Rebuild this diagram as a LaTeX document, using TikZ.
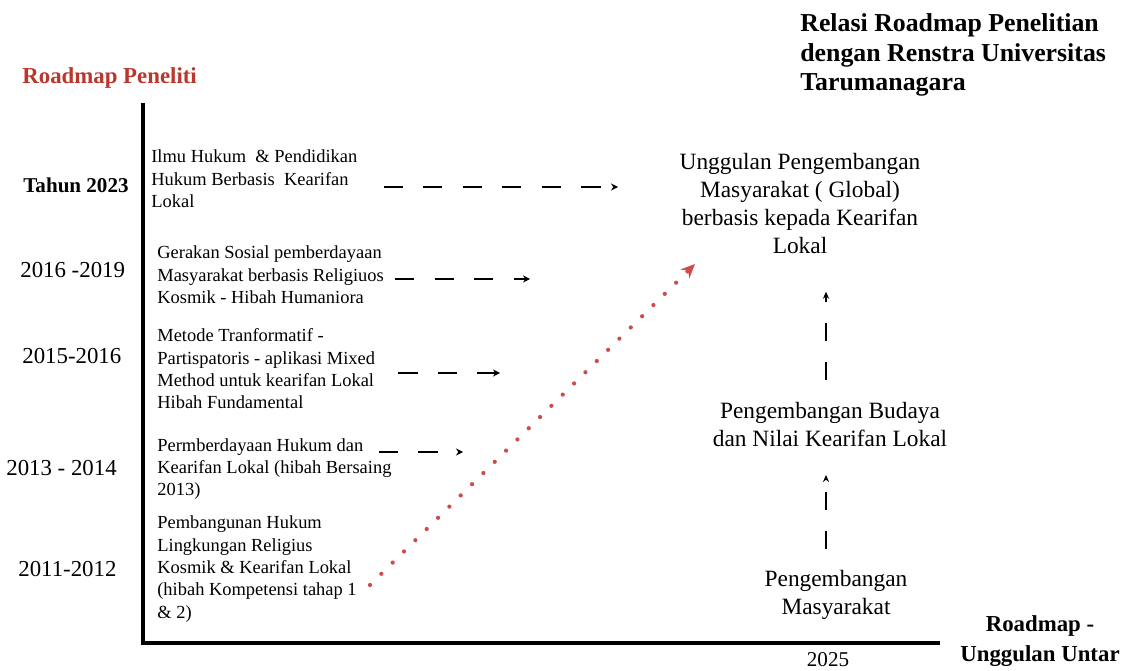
\documentclass[tikz,border=0pt]{standalone}
\usepackage{fontspec}
\setmainfont{Liberation Serif}
\usetikzlibrary{arrows.meta}
\definecolor{rmred}{RGB}{185,55,45}
\definecolor{dotred}{RGB}{205,75,75}
\begin{document}
\begin{tikzpicture}[x=0.02cm,y=-0.02cm,
  ltext/.style={inner sep=0pt, anchor=west, align=left, font=\fontsize{10.5}{12.7}\selectfont},
  ytext/.style={inner sep=0pt, anchor=west, font=\fontsize{13}{15}\selectfont},
  rtext/.style={inner sep=0pt, align=center, font=\fontsize{13.3}{15.9}\selectfont},
  harrow/.style={line width=1.4pt, dash pattern=on 11pt off 11.5pt, -{Stealth[length=4pt,width=4pt]}},
  varrow/.style={line width=1.4pt, dash pattern=on 10.2pt off 11.9pt, -{Stealth[length=4pt,width=3.5pt]}},
  redarrow/.style={dotred, line width=2.4pt, line cap=round, dash pattern=on 0pt off 9.07pt, -{Stealth[length=8pt,width=7pt]}},
  axisline/.style={line width=2.3pt}
]
\useasboundingbox (0,0) rectangle (1131,671);

% titles
\node[inner sep=0pt, anchor=west, text=rmred, font=\fontsize{13}{15}\selectfont\bfseries] (rp) at (22,78) {Roadmap Peneliti};
\node[inner sep=0pt, anchor=west, align=left, font=\fontsize{14.7}{17}\selectfont\bfseries] (title) at (800,55) {Relasi Roadmap Penelitian\\dengan Renstra Universitas\\Tarumanagara};

% axes
\coordinate (ytop) at (143,103);
\coordinate (orig) at (143,643);
\coordinate (xend) at (940,643);
\draw[axisline] (ytop) -- (orig) -- (xend);

% years
\node[ytext, font=\fontsize{12}{14}\selectfont\bfseries] (y1) at (23,185) {Tahun 2023};
\node[ytext] (y2) at (20,270) {2016 -2019};
\node[ytext] (y3) at (22,356) {2015-2016};
\node[ytext] (y4) at (6,468) {2013 - 2014};
\node[ytext] (y5) at (18,569) {2011-2012};

% research items
\node[ltext] (t1) at (151,179) {Ilmu Hukum\ \ \& Pendidikan\\Hukum Berbasis\ \ Kearifan\\Lokal};
\node[ltext] (t2) at (157,275) {Gerakan Sosial pemberdayaan\\Masyarakat berbasis Religiuos\\Kosmik - Hibah Humaniora};
\node[ltext] (t3) at (157,369) {Metode Tranformatif -\\Partispatoris - aplikasi Mixed\\Method untuk kearifan Lokal\\Hibah Fundamental};
\node[ltext] (t4) at (157,469) {Permberdayaan Hukum dan\\Kearifan Lokal (hibah Bersaing\\2013)};
\node[ltext] (t5) at (157,569) {Pembangunan Hukum\\Lingkungan Religius\\Kosmik \& Kearifan Lokal\\(hibah Kompetensi tahap 1\\\& 2)};

% right column
\node[rtext] (ung) at (800,203.5) {Unggulan Pengembangan\\Masyarakat ( Global)\\berbasis kepada Kearifan\\Lokal};
\node[rtext] (bud) at (830,424.5) {Pengembangan Budaya\\dan Nilai Kearifan Lokal};
\node[rtext] (masy) at (836,594.5) {Pengembangan\\Masyarakat};

% footer
\node[inner sep=0pt, align=center, font=\fontsize{13}{17}\selectfont\bfseries] (ru) at (1040,641.5) {Roadmap -\\Unggulan Untar};
\node[inner sep=0pt, font=\fontsize{12}{14}\selectfont] (yr) at (828,660) {2025};

% horizontal dashed arrows
\coordinate (e1) at (618,187);
\coordinate (e2) at (530,279);
\coordinate (e3) at (500,373);
\coordinate (e4) at (463,452);
\draw[harrow, shorten <=14.7pt] (t1.east |- e1) -- (e1);
\draw[harrow, shorten <=6.2pt] (t2.east |- e2) -- (e2);
\draw[harrow, shorten <=13pt] (t3.east |- e3) -- (e3);
\draw[harrow, shorten <=-7.4pt] (t4.east |- e4) -- (e4);

% vertical dashed arrows
\coordinate (ax) at (826,0);
\draw[varrow, shorten <=11.9pt, shorten >=15.9pt] (masy.north -| ax) -- (bud.south -| ax);
\draw[varrow, shorten <=12.5pt, shorten >=21.5pt] (bud.north -| ax) -- (ung.south -| ax);

% red dotted arrow
\coordinate (r0) at (370,585);
\coordinate (r1) at (695,264);
\draw[redarrow] (r0) -- (r1);
\end{tikzpicture}
\end{document}
